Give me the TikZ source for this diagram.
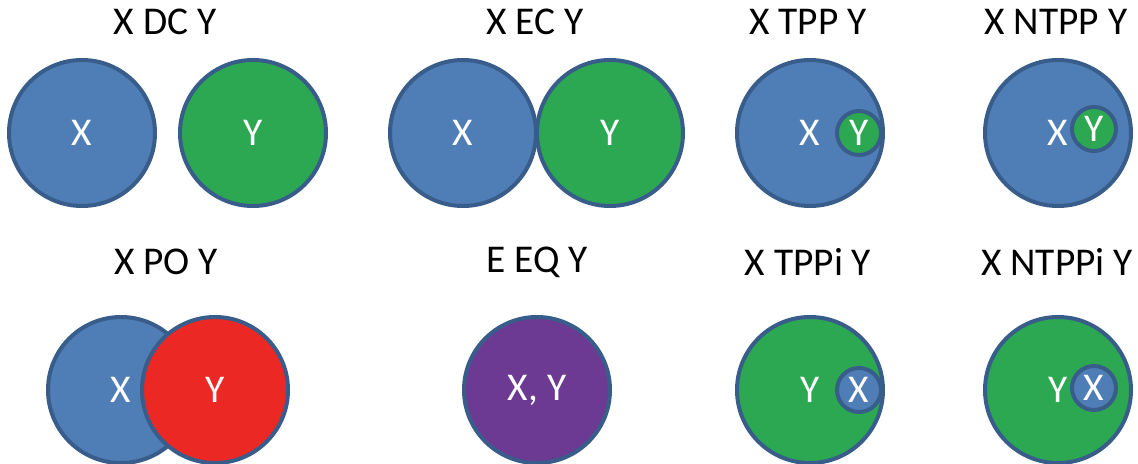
\documentclass[tikz,border=0pt]{standalone}
\usepackage{fontspec}
\setmainfont{Carlito}
\definecolor{xblue}{RGB}{79,125,181}
\definecolor{ygreen}{RGB}{44,168,82}
\definecolor{yred}{RGB}{236,40,36}
\definecolor{xypurple}{RGB}{108,58,146}
\definecolor{rim}{RGB}{56,93,138}

\begin{document}
\begin{tikzpicture}[region/.style={circle, draw=rim, line width=0.1cm, minimum size=#1, inner sep=0pt, text=white, font=\fontsize{28}{30}\selectfont},
  big/.style={region=3.65cm}, small/.style={region=1.1cm},
  title/.style={font=\fontsize{28}{30}\selectfont}]

  \useasboundingbox (0,0) rectangle (28.45,11.6);

  % first row
  \draw (4.125,11.05) node[title] (dcT) {X DC Y};
  \node[big, fill=xblue] (dcX) at (2.05,8.275) {X};
  \node[big, fill=ygreen] (dcY) at (6.325,8.275) {Y};

  \draw (13.375,11.05) node[title] (ecT) {X EC Y};
  \node[big, fill=xblue] (ecX) at (11.575,8.275) {X};
  \node[big, fill=ygreen] (ecY) at (15.25,8.275) {Y};

  \draw (20.2,11.05) node[title] (tppT) {X TPP Y};
  \node[big, fill=xblue] (tppX) at (20.25,8.275) {X};
  \node[small, fill=ygreen] (tppY) at (21.475,8.275) {Y};

  \draw (26.4,11.05) node[title] (ntppT) {X NTPP Y};
  \node[big, fill=xblue] (ntppX) at (26.45,8.275) {X};
  \node[small, fill=ygreen] (ntppY) at (27.35,8.375) {Y};

  % second row
  \draw (4.15,5.05) node[title] (poT) {X PO Y};
  \node[big, fill=xblue] (poX) at (3.025,1.85) {X};
  \node[big, fill=yred] (poY) at (5.375,1.85) {Y};

  \draw (13.425,5.05) node[title] (eqT) {E EQ Y};
  \node[big, fill=xypurple] (eqXY) at (13.425,1.85) {X, Y};

  \draw (20.2,5.05) node[title] (tppiT) {X TPPi Y};
  \node[big, fill=ygreen] (tppiY) at (20.25,1.85) {Y};
  \node[small, fill=xblue] (tppiX) at (21.475,1.85) {X};

  \draw (26.425,5.05) node[title] (ntppiT) {X NTPPi Y};
  \node[big, fill=ygreen] (ntppiY) at (26.45,1.85) {Y};
  \node[small, fill=xblue] (ntppiX) at (27.35,1.9) {X};

\end{tikzpicture}
\end{document}
